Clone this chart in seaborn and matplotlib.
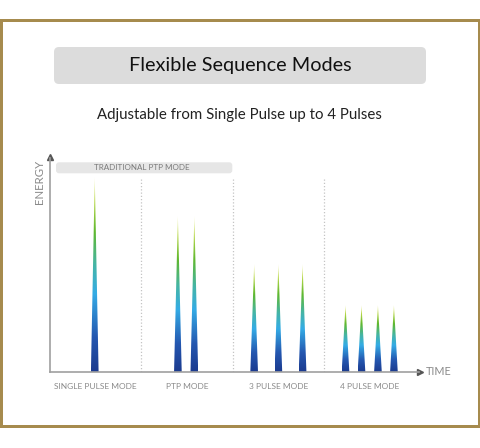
import numpy as np
import matplotlib
matplotlib.use("Agg")
import matplotlib.pyplot as plt
import seaborn as sns
from matplotlib.colors import LinearSegmentedColormap
from matplotlib.patches import FancyBboxPatch, Rectangle, Polygon

# ---------------- data ----------------
modes = ["SINGLE PULSE MODE", "PTP MODE", "3 PULSE MODE", "4 PULSE MODE"]
pulse_time = [0.49, 1.40, 1.58, 2.235, 2.50, 2.765, 3.235, 3.41, 3.59, 3.765]
pulse_energy = [100, 80, 80, 55.4, 55.4, 55.4, 34.4, 34.4, 34.4, 34.4]
mode_bounds = [1, 2, 3]
title = "Flexible Sequence Modes"
subtitle = "Adjustable from Single Pulse up to 4 Pulses"
banner = "TRADITIONAL PTP MODE"
x_label = "TIME"
y_label = "ENERGY"

# ---------------- style ----------------
sns.set_theme(style="white")
plt.rcParams['font.family'] = ['Lato', 'DejaVu Sans']

W, H = 480, 448
fig = plt.figure(figsize=(W / 100, H / 100), dpi=100)
fig.patch.set_facecolor("white")


def fx(x):
    return x / W


def fy(y):
    return 1 - y / H


AX_L, AX_R, AX_B, AX_T = 50, 422.7, 372, 154
ax = fig.add_axes([fx(AX_L), fy(AX_B), (AX_R - AX_L) / W, (AX_B - AX_T) / H])
ax.set_facecolor("none")

cmap = LinearSegmentedColormap.from_list(
    "pulse",
    [(0.0, "#1b3a8e"), (0.18, "#2457b0"), (0.40, "#34ace6"),
     (0.55, "#45b5a6"), (0.72, "#5fb82e"), (0.88, "#b9d84a"), (1.0, "#f2f4b0")])
grad = np.linspace(0, 1, 256).reshape(-1, 1)
hw = 0.042

for t, e in zip(pulse_time, pulse_energy):
    poly = Polygon([(t - hw, 0), (t, e), (t + hw, 0)], closed=True,
                   facecolor="none", edgecolor="none")
    ax.add_patch(poly)
    im = ax.imshow(grad, extent=[t - hw, t + hw, 0, e], origin="lower",
                   aspect="auto", cmap=cmap, interpolation="bicubic", zorder=2)
    im.set_clip_path(poly)

ax.vlines(mode_bounds, 0, 100, colors="#c4c4c4",
          linestyles=(0, (1, 1.6)), lw=0.9, zorder=1)

ax.set_xlim(0, 4.08)
ax.set_ylim(0, 112)
ax.set_xticks([])
ax.set_yticks([])
sns.despine(ax=ax, top=True, right=True)
for s in ("left", "bottom"):
    ax.spines[s].set_color("#a0a0a0")
    ax.spines[s].set_linewidth(1.2)
ax.spines["bottom"].set_bounds(0, 4.08 * (1 - 4 / (AX_R - AX_L)))
ax.spines["left"].set_bounds(0, 112 * (1 - 4 / (AX_B - AX_T)))
ax.plot(1 - 3 / (AX_R - AX_L), 0, ">", color="#555555", ms=4.2,
        transform=ax.transAxes, clip_on=False)
ax.plot(0, 1 - 3 / (AX_B - AX_T), "^", color="#555555", ms=4.2,
        transform=ax.transAxes, clip_on=False)

for i, m in enumerate(modes):
    ax.annotate(m, (i + 0.5, 0), xytext=(0, -10.1), textcoords="offset points",
                ha="center", va="center", fontsize=6, color="#8a8a8a")

# axis labels
fig.text(fx(425.5), fy(371), x_label, ha="left", va="center",
         fontsize=7.8, color="#8a8a8a")
fig.text(fx(40), fy(181.5), y_label, ha="center", va="center",
         rotation=90, fontsize=8.2, color="#8a8a8a")

# border
fig.patches.append(Rectangle((fx(1.3), fy(426)), fx(478.7 - 1.3), (426 - 19.7) / H,
                             transform=fig.transFigure, facecolor="none",
                             edgecolor="#a68b4e", lw=2.16))

asp = W / H
# title box
fig.patches.append(FancyBboxPatch((fx(54), fy(84)), fx(426 - 54), (84 - 47) / H,
                                  boxstyle="round,pad=0,rounding_size=%f" % fx(5),
                                  mutation_aspect=asp, transform=fig.transFigure,
                                  facecolor="#dcdcdc", edgecolor="none"))
fig.text(fx(240), fy(66), title, ha="center", va="center",
         fontsize=14.3, color="#111111")
fig.text(fx(239.5), fy(115.5), subtitle, ha="center", va="center",
         fontsize=10.85, color="#222222")

# banner
fig.patches.append(FancyBboxPatch((fx(56), fy(173.3)), fx(232.3 - 56), (173.3 - 162.3) / H,
                                  boxstyle="round,pad=0,rounding_size=%f" % fx(3),
                                  mutation_aspect=asp, transform=fig.transFigure,
                                  facecolor="#e6e6e6", edgecolor="none"))
fig.text(fx(141.5), fy(167.6), banner, ha="center", va="center",
         fontsize=5.8, color="#7a7a7a")

fig.savefig("out.png", dpi=100, facecolor="white")
